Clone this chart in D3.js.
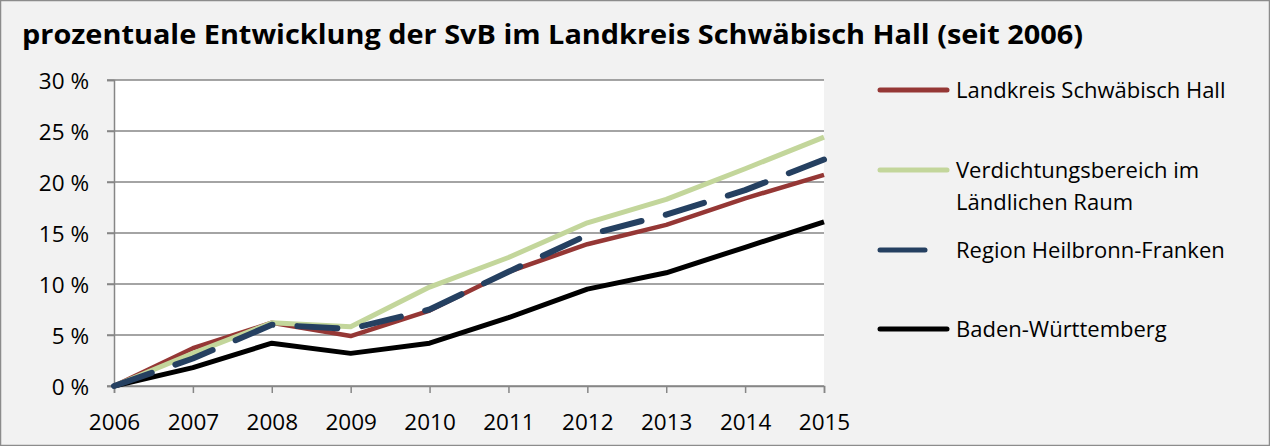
<!DOCTYPE html>
<html><head><meta charset="utf-8">
<script src="https://cdn.jsdelivr.net/npm/d3@7"></script>
<style>html,body{margin:0;padding:0;background:#f2f2f2;}svg{display:block;}</style>
</head><body>
<script>
const years = [2006,2007,2008,2009,2010,2011,2012,2013,2014,2015];
const landkreis = [0,3.7,6.2,4.9,7.4,11.2,13.9,15.8,18.4,20.7];
const verdichtung = [0,3.2,6.2,5.8,9.7,12.6,16.0,18.3,21.3,24.4];
const region = [0,2.7,6.0,5.6,7.5,11.2,14.8,16.8,19.2,22.2];
const bw = [0,1.8,4.2,3.2,4.2,6.7,9.5,11.1,13.6,16.1];
const yTicks = [0,5,10,15,20,25,30];
const seriesNames = ["Landkreis Schwäbisch Hall","Verdichtungsbereich im|Ländlichen Raum","Region Heilbronn-Franken","Baden-Württemberg"];
const title = "prozentuale Entwicklung der SvB im Landkreis Schwäbisch Hall (seit 2006)";

const W=1270,H=446;
const svg=d3.select("body").append("svg").attr("width",W).attr("height",H);
svg.append("rect").attr("x",0.5).attr("y",0.5).attr("width",W-1).attr("height",H-1).attr("fill","#f2f2f2").attr("stroke","#8c8c8c").attr("stroke-width",1.5);

const font="Open Sans, Lato, sans-serif";
svg.append("text").attr("x",22).attr("y",44).attr("font-family",font).attr("font-weight","bold")
  .attr("font-size",26).attr("textLength",1061).attr("lengthAdjust","spacingAndGlyphs").attr("fill","#000").text(title);

const x=d3.scaleLinear().domain([2006,2015]).range([114,824]);
const y=d3.scaleLinear().domain([0,30]).range([386,80]);

svg.append("rect").attr("x",114).attr("y",80).attr("width",710).attr("height",306).attr("fill","#fff");

// gridlines
svg.append("g").selectAll("line").data(yTicks).join("line")
  .attr("x1",107).attr("x2",824).attr("y1",d=>y(d)).attr("y2",d=>y(d))
  .attr("stroke","#868686").attr("stroke-width",1.5);

const yAxis=svg.append("g").attr("transform","translate(114,0)")
  .call(d3.axisLeft(y).tickValues(yTicks).tickSize(7).tickFormat(d=>d+" %"));
yAxis.select(".domain").attr("stroke","#868686").attr("stroke-width",1.5);
yAxis.selectAll(".tick line").attr("stroke","#868686").attr("stroke-width",1.5);
yAxis.selectAll("text").attr("font-family",font).attr("font-size",22.5).attr("fill","#000").attr("x",-25).attr("dy","0.36em");

const xAxis=svg.append("g").attr("transform","translate(0,386)")
  .call(d3.axisBottom(x).tickValues(years).tickSize(7).tickFormat(d3.format("d")));
xAxis.select(".domain").attr("stroke","#868686").attr("stroke-width",1.5);
xAxis.selectAll(".tick line").attr("stroke","#868686").attr("stroke-width",1.5);
xAxis.selectAll("text").attr("font-family",font).attr("font-size",22.5).attr("fill","#000").attr("y",44).attr("dy",0);

const series=[
  {name:seriesNames[0],vals:landkreis,color:"#953735",w:4.5,dash:null},
  {name:seriesNames[1],vals:verdichtung,color:"#c3d69b",w:5,dash:null},
  {name:seriesNames[2],vals:region,color:"#254061",w:6,dash:"40 25"},
  {name:seriesNames[3],vals:bw,color:"#000000",w:5,dash:null}
];
const line=d3.line().x((d,i)=>x(years[i])).y(d=>y(d));
const drawOrder=[3,0,1,2];
drawOrder.forEach(k=>{
  const s=series[k];
  svg.append("path").datum(s.vals).attr("d",line).attr("fill","none")
    .attr("stroke",s.color).attr("stroke-width",s.w).attr("stroke-linejoin","round")
    .attr("stroke-linecap",s.dash?"round":"butt")
    .attr("stroke-dasharray",s.dash);
});

// legend
const legY=[90,170,250,329];
const lg=svg.append("g");
series.forEach((s,i)=>{
  const x2 = s.dash? 925 : 947;
  lg.append("line").attr("x1",880).attr("x2",x2).attr("y1",legY[i]).attr("y2",legY[i])
    .attr("stroke",s.color).attr("stroke-width",5).attr("stroke-linecap","round");
  const parts=s.name.split("|");
  parts.forEach((p,j)=>{
    lg.append("text").attr("x",956).attr("y",legY[i]+j*32).attr("dy","0.36em")
      .attr("font-family",font).attr("font-size",22).attr("fill","#000").text(p);
  });
});
</script>
</body></html>
